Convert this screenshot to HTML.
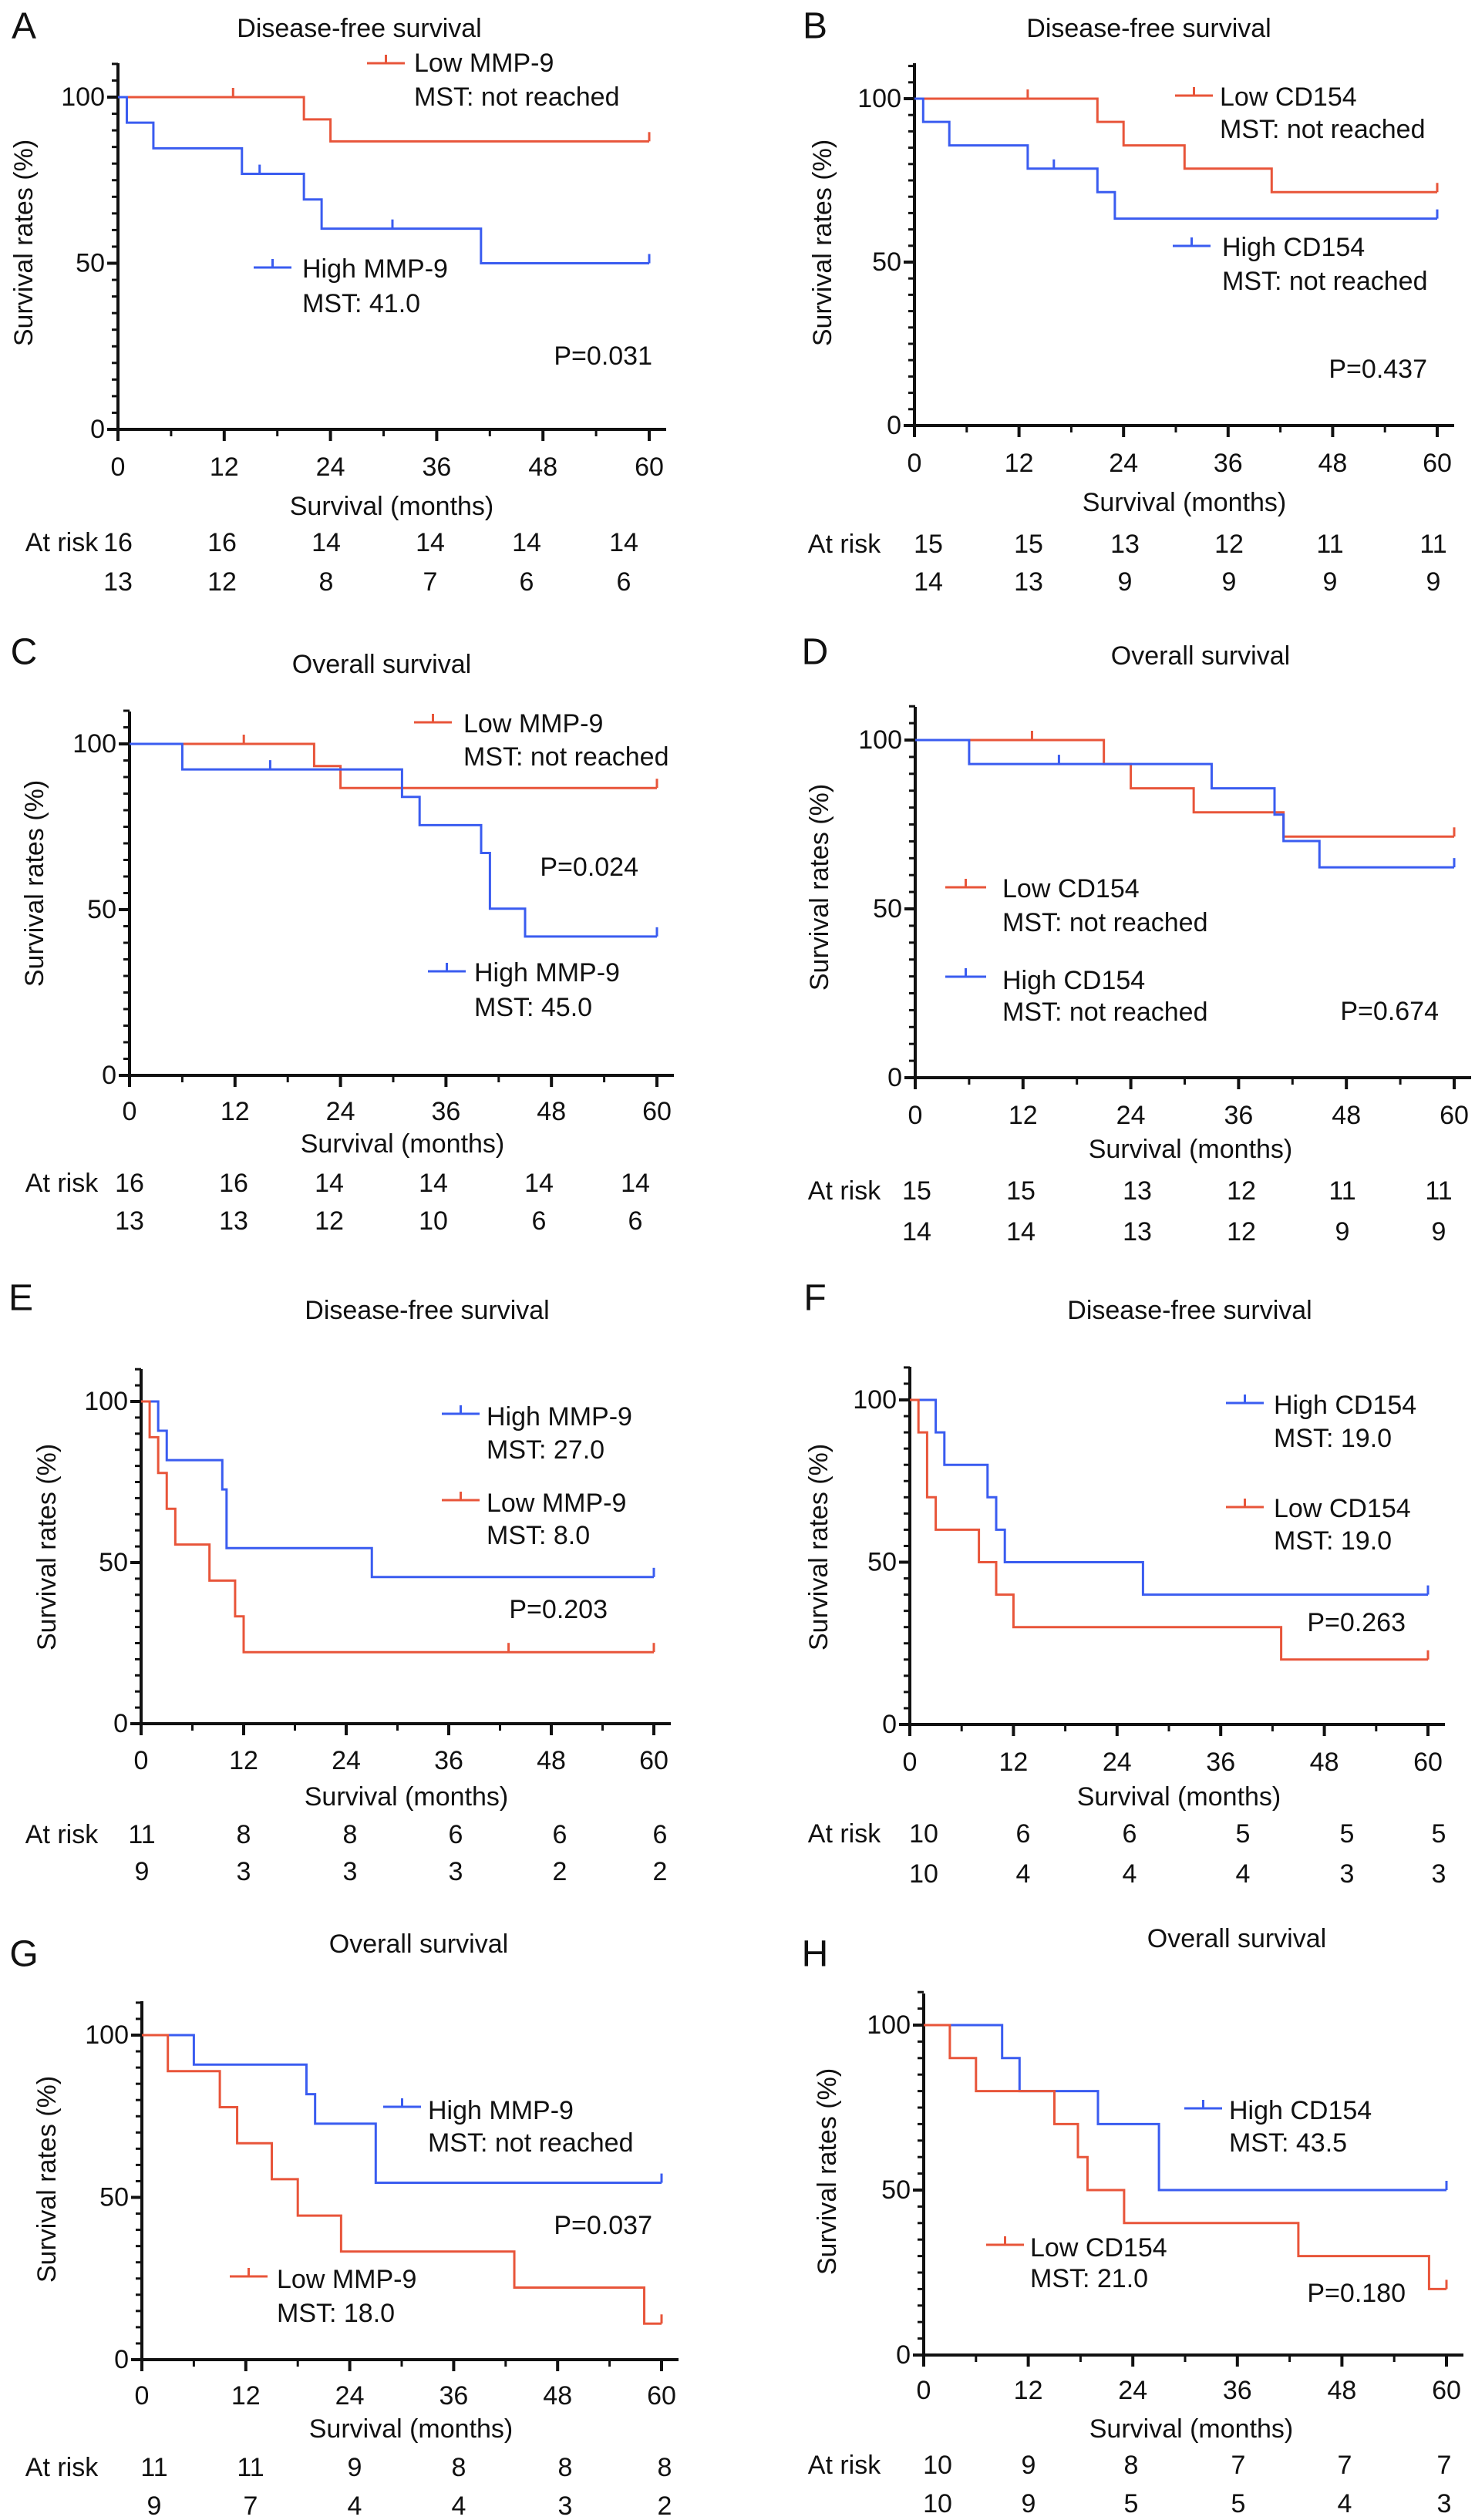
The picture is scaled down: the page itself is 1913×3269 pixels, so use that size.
<!DOCTYPE html>
<html><head><meta charset="utf-8">
<style>
html,body{margin:0;padding:0;background:#fff;}
svg{display:block;font-family:"Liberation Sans",Arial,sans-serif;}
text{font-size:34px;fill:#111;}
</style></head>
<body>
<svg id="fig" width="1913" height="3269" viewBox="0 0 1913 3269" xmlns="http://www.w3.org/2000/svg"></svg>
<script>
// ---- data (months, survival %) ----
const A_lowT=[21,24], A_lowV=[93.3,86.7], A_lowC=[13,60];
const A_highT=[1,4,14,21,23,41], A_highV=[92.3,84.6,76.9,69.2,60.4,50], A_highC=[16,31,60];
const B_lowT=[21,24,31,41], B_lowV=[92.9,85.7,78.6,71.4], B_lowC=[13,60];
const B_highT=[1,4,13,21,23], B_highV=[92.9,85.7,78.6,71.4,63.3], B_highC=[16,60];
const C_lowT=[21,24], C_lowV=[93.3,86.7], C_lowC=[13,60];
const C_highT=[6,31,33,40,41,45], C_highV=[92.3,84,75.5,67.1,50.3,41.9], C_highC=[16,60];
const D_lowT=[21,24,31,41], D_lowV=[92.9,85.7,78.6,71.4], D_lowC=[13,60];
const D_highT=[6,33,40,41,45], D_highV=[92.9,85.7,77.9,70.1,62.3], D_highC=[16,60];
const E_highT=[2,3,9.5,10,27], E_highV=[90.9,81.8,72.7,54.5,45.5], E_highC=[60];
const E_lowT=[1,2,3,4,8,11,12], E_lowV=[88.9,77.8,66.7,55.6,44.4,33.3,22.2], E_lowC=[43,60];
const F_highT=[3,4,9,10,11,27], F_highV=[90,80,70,60,50,40], F_highC=[60];
const F_lowT=[1,2,3,8,10,12,43], F_lowV=[90,70,60,50,40,30,20], F_lowC=[60];
const G_highT=[6,19,20,27], G_highV=[90.9,81.8,72.7,54.5], G_highC=[60];
const G_lowT=[3,9,11,15,18,23,43,58], G_lowV=[88.9,77.8,66.7,55.6,44.4,33.3,22.2,11.1], G_lowC=[60];
const H_highT=[9,11,20,27], H_highV=[90,80,70,50], H_highC=[60];
const H_lowT=[3,6,15,17.7,18.8,23,43,58], H_lowV=[90,80,70,60,50,40,30,20], H_lowC=[60];
const xTicks=[0,12,24,36,48,60];
const yTicks=[0,50,100];
const riskA1=[16,16,14,14,14,14], riskA2=[13,12,8,7,6,6];
const riskB1=[15,15,13,12,11,11], riskB2=[14,13,9,9,9,9];
const riskC1=[16,16,14,14,14,14], riskC2=[13,13,12,10,6,6];
const riskD1=[15,15,13,12,11,11], riskD2=[14,14,13,12,9,9];
const riskE1=[11,8,8,6,6,6], riskE2=[9,3,3,3,2,2];
const riskF1=[10,6,6,5,5,5], riskF2=[10,4,4,4,3,3];
const riskG1=[11,11,9,8,8,8], riskG2=[9,7,4,4,3,2];
const riskH1=[10,9,8,7,7,7], riskH2=[10,9,5,5,4,3];

const RED="#e8553a", BLUE="#3a5cf0";
const NS="http://www.w3.org/2000/svg";
const svg=document.getElementById('fig');
function el(tag,attrs,parent){const e=document.createElementNS(NS,tag);for(const k in attrs)e.setAttribute(k,attrs[k]);(parent||svg).appendChild(e);return e;}
function txt(s,x,y,anchor,parent,size){const t=el('text',{x:x,y:y,'text-anchor':anchor||'start','dominant-baseline':'central'},parent);if(size)t.style.fontSize=size+'px';t.textContent=s;return t;}

const panels=[
 {id:'a',L:'A',title:'Disease-free survival',x0:153,x60:842,y100:126,y0:557,top:82,lx:31,ly:34,ty:37,tx:466,tickY:606,xlx:508,xly:657,r1:704,r2:755,rx:[153,288,423,558,683,809],ylx:31,yly:315,
  series:[{name:'low',c:RED,T:A_lowT,V:A_lowV,C:A_lowC},{name:'high',c:BLUE,T:A_highT,V:A_highV,C:A_highC}],
  legends:[{c:RED,lx1:476,lx2:525,ly:82,tx:537,t1:'Low MMP-9',t2:'MST: not reached',t1y:82,t2y:126},
           {c:BLUE,lx1:329,lx2:378,ly:347,tx:392,t1:'High MMP-9',t2:'MST: 41.0',t1y:349,t2y:394}],
  p:'P=0.031',px:846,py:462,R1:riskA1,R2:riskA2},
 {id:'b',L:'B',title:'Disease-free survival',x0:1186,x60:1864,y100:128,y0:552,top:82,lx:1057,ly:34,ty:37,tx:1490,tickY:601,xlx:1536,xly:652,r1:706,r2:755,rx:[1204,1334,1459,1594,1725,1859],ylx:1067,yly:315,
  series:[{name:'low',c:RED,T:B_lowT,V:B_lowV,C:B_lowC},{name:'high',c:BLUE,T:B_highT,V:B_highV,C:B_highC}],
  legends:[{c:RED,lx1:1524,lx2:1573,ly:124,tx:1582,t1:'Low CD154',t2:'MST: not reached',t1y:126,t2y:168},
           {c:BLUE,lx1:1521,lx2:1570,ly:319,tx:1585,t1:'High CD154',t2:'MST: not reached',t1y:321,t2y:365}],
  p:'P=0.437',px:1851,py:479,R1:riskB1,R2:riskB2},
 {id:'c',L:'C',title:'Overall survival',x0:168,x60:852,y100:965,y0:1395,top:923,lx:31,ly:846,ty:862,tx:495,tickY:1442,xlx:522,xly:1484,r1:1535,r2:1584,rx:[168,303,427,562,699,824],ylx:45,yly:1146,
  series:[{name:'low',c:RED,T:C_lowT,V:C_lowV,C:C_lowC},{name:'high',c:BLUE,T:C_highT,V:C_highV,C:C_highC}],
  legends:[{c:RED,lx1:537,lx2:586,ly:937,tx:601,t1:'Low MMP-9',t2:'MST: not reached',t1y:939,t2y:982},
           {c:BLUE,lx1:555,lx2:604,ly:1260,tx:615,t1:'High MMP-9',t2:'MST: 45.0',t1y:1262,t2y:1307}],
  p:'P=0.024',px:828,py:1125,R1:riskC1,R2:riskC2},
 {id:'d',L:'D',title:'Overall survival',x0:1187,x60:1886,y100:960,y0:1398,top:917,lx:1057,ly:846,ty:851,tx:1557,tickY:1447,xlx:1544,xly:1491,r1:1545,r2:1598,rx:[1189,1324,1475,1610,1741,1866],ylx:1063,yly:1151,
  series:[{name:'low',c:RED,T:D_lowT,V:D_lowV,C:D_lowC},{name:'high',c:BLUE,T:D_highT,V:D_highV,C:D_highC}],
  legends:[{c:RED,lx1:1226,lx2:1279,ly:1151,tx:1300,t1:'Low CD154',t2:'MST: not reached',t1y:1153,t2y:1197},
           {c:BLUE,lx1:1226,lx2:1279,ly:1267,tx:1300,t1:'High CD154',t2:'MST: not reached',t1y:1272,t2y:1313}],
  p:'P=0.674',px:1866,py:1312,R1:riskD1,R2:riskD2},
 {id:'e',L:'E',title:'Disease-free survival',x0:183,x60:848,y100:1818,y0:2236,top:1776,lx:27,ly:1684,ty:1700,tx:554,tickY:2284,xlx:527,xly:2331,r1:2380,r2:2428,rx:[184,316,454,591,726,856],ylx:61,yly:2007,
  series:[{name:'high',c:BLUE,T:E_highT,V:E_highV,C:E_highC},{name:'low',c:RED,T:E_lowT,V:E_lowV,C:E_lowC}],
  legends:[{c:BLUE,lx1:573,lx2:622,ly:1834,tx:631,t1:'High MMP-9',t2:'MST: 27.0',t1y:1838,t2y:1881},
           {c:RED,lx1:573,lx2:622,ly:1946,tx:631,t1:'Low MMP-9',t2:'MST: 8.0',t1y:1950,t2y:1992}],
  p:'P=0.203',px:788,py:2088,R1:riskE1,R2:riskE2},
 {id:'f',L:'F',title:'Disease-free survival',x0:1180,x60:1852,y100:1816,y0:2237,top:1773,lx:1057,ly:1684,ty:1700,tx:1543,tickY:2286,xlx:1529,xly:2331,r1:2379,r2:2431,rx:[1198,1327,1465,1612,1747,1866],ylx:1062,yly:2007,
  series:[{name:'high',c:BLUE,T:F_highT,V:F_highV,C:F_highC},{name:'low',c:RED,T:F_lowT,V:F_lowV,C:F_lowC}],
  legends:[{c:BLUE,lx1:1590,lx2:1639,ly:1820,tx:1652,t1:'High CD154',t2:'MST: 19.0',t1y:1823,t2y:1866},
           {c:RED,lx1:1590,lx2:1639,ly:1955,tx:1652,t1:'Low CD154',t2:'MST: 19.0',t1y:1957,t2y:1999}],
  p:'P=0.263',px:1823,py:2105,R1:riskF1,R2:riskF2},
 {id:'g',L:'G',title:'Overall survival',x0:184,x60:858,y100:2640,y0:3061,top:2596,lx:31,ly:2535,ty:2522,tx:543,tickY:3108,xlx:533,xly:3151,r1:3201,r2:3251,rx:[200,325,460,595,733,862],ylx:61,yly:2827,
  series:[{name:'high',c:BLUE,T:G_highT,V:G_highV,C:G_highC},{name:'low',c:RED,T:G_lowT,V:G_lowV,C:G_lowC}],
  legends:[{c:BLUE,lx1:497,lx2:546,ly:2733,tx:555,t1:'High MMP-9',t2:'MST: not reached',t1y:2738,t2y:2780},
           {c:RED,lx1:298,lx2:347,ly:2953,tx:359,t1:'Low MMP-9',t2:'MST: 18.0',t1y:2957,t2y:3001}],
  p:'P=0.037',px:846,py:2887,R1:riskG1,R2:riskG2},
 {id:'h',L:'H',title:'Overall survival',x0:1198,x60:1876,y100:2627,y0:3055,top:2586,lx:1057,ly:2535,ty:2515,tx:1604,tickY:3101,xlx:1545,xly:3151,r1:3198,r2:3248,rx:[1216,1334,1467,1606,1744,1873],ylx:1073,yly:2817,
  series:[{name:'high',c:BLUE,T:H_highT,V:H_highV,C:H_highC},{name:'low',c:RED,T:H_lowT,V:H_lowV,C:H_lowC}],
  legends:[{c:BLUE,lx1:1536,lx2:1585,ly:2735,tx:1594,t1:'High CD154',t2:'MST: 43.5',t1y:2738,t2y:2780},
           {c:RED,lx1:1279,lx2:1328,ly:2912,tx:1336,t1:'Low CD154',t2:'MST: 21.0',t1y:2916,t2y:2956}],
  p:'P=0.180',px:1823,py:2975,R1:riskH1,R2:riskH2}
];

panels.forEach(P=>{
  const g=el('g',{});
  
  
  const X=m=>P.x0+(P.x60-P.x0)*m/60;
  const Y=v=>P.y0+(P.y100-P.y0)*v/100;
  const lt=txt(P.L,P.lx,P.ly,'middle',g,48);
  
  
  const tt=txt(P.title,P.tx,P.ty,'middle',g);
  
  
  // y axis
  const ya=el('g',{},g);
  
  
  el('line',{x1:P.x0,y1:P.top,x2:P.x0,y2:P.y0+2,stroke:'#111','stroke-width':4},ya);
  for(let v=0;v<=110;v+=5){
    const major=(v%50===0);
    el('line',{x1:P.x0-(major?14:8),y1:Y(v),x2:P.x0,y2:Y(v),stroke:'#111','stroke-width':major?4:3},ya);
  }
  yTicks.forEach(v=>{const t=txt(String(v),P.x0-17,Y(v),'end',ya);});
  const yl=el('text',{x:0,y:0,'text-anchor':'middle','dominant-baseline':'central',transform:`translate(${P.ylx},${P.yly}) rotate(-90)`},g);
  yl.textContent='Survival rates (%)';
  
  
  // x axis
  const xa=el('g',{},g);
  
  
  el('line',{x1:P.x0-2,y1:P.y0,x2:P.x60+22,y2:P.y0,stroke:'#111','stroke-width':4},xa);
  for(let m=0;m<=60;m+=6){
    const major=(m%12===0);
    el('line',{x1:X(m),y1:P.y0,x2:X(m),y2:P.y0+(major?15:9),stroke:'#111','stroke-width':major?4:3},xa);
  }
  xTicks.forEach(m=>{const t=txt(String(m),X(m),P.tickY,'middle',xa);});
  const xl=txt('Survival (months)',P.xlx,P.xly,'middle',g);
  
  
  // curves
  P.series.forEach(s=>{
    let d=`M${X(0)},${Y(100)}`, cur=100;
    s.T.forEach((t,i)=>{d+=` H${X(t)} V${Y(s.V[i])}`;cur=s.V[i];});
    d+=` H${X(60)}`;
    const p=el('path',{d:d,fill:'none',stroke:s.c,'stroke-width':3},g);
    
    
    s.C.forEach(c=>{
      let v=100;s.T.forEach((t,i)=>{if(t<=c)v=s.V[i];});
      const k=el('line',{x1:X(c),y1:Y(v),x2:X(c),y2:Y(v)-12,stroke:s.c,'stroke-width':3},g);
      
      
    });
  });
  // legends
  P.legends.forEach(L=>{
    const lg=el('g',{},g);
    
    
    el('line',{x1:L.lx1,y1:L.ly,x2:L.lx2,y2:L.ly,stroke:L.c,'stroke-width':3},lg);
    el('line',{x1:(L.lx1+L.lx2)/2,y1:L.ly,x2:(L.lx1+L.lx2)/2,y2:L.ly-11,stroke:L.c,'stroke-width':3},lg);
    txt(L.t1,L.tx,L.t1y,'start',lg);
    txt(L.t2,L.tx,L.t2y,'start',lg);
  });
  const pt=txt(P.p,P.px,P.py,'end',g);
  
  
  // at risk
  const rk=el('g',{},g);
  
  
  txt('At risk',P.L.charCodeAt(0)%2===1?80:1095,P.r1,'middle',rk);
  P.R1.forEach((n,i)=>txt(String(n),P.rx[i],P.r1,'middle',rk));
  P.R2.forEach((n,i)=>txt(String(n),P.rx[i],P.r2,'middle',rk));
});
</script>
</body></html>
